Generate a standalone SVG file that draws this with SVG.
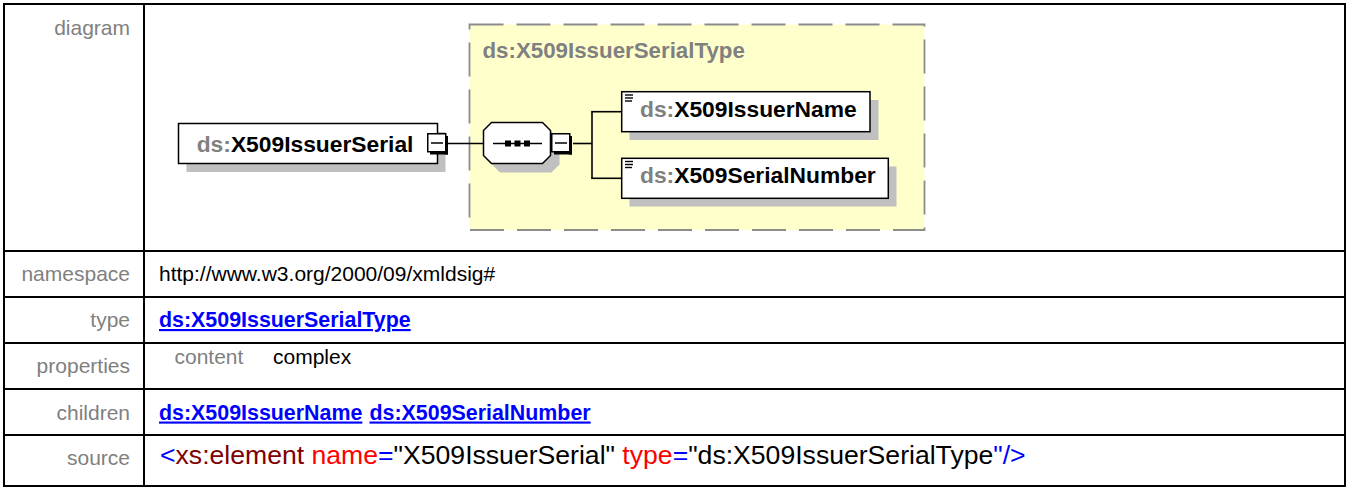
<svg xmlns="http://www.w3.org/2000/svg" width="1346" height="487" viewBox="0 0 1346 487">
<style>
text{font-family:"Liberation Sans",Arial,sans-serif}
.lbl{font-size:21px;fill:#808080;text-anchor:end}
.val{font-size:21px;fill:#000}
.lnk{font-size:21.4px;font-weight:bold;fill:#0000ff;text-decoration:underline}
.src{font-size:26.6px}
.nm{font-size:22.8px;font-weight:bold;fill:#000}
.pfx{fill:#808080}
.grid{stroke:#000;stroke-width:2;fill:none}
.box{fill:#fff;stroke:#000;stroke-width:1.5}
.shadow{fill:#c0c0c0}
.conn{stroke:#000;stroke-width:1.6;fill:none}
.tag{fill:#0000ff}
.el{fill:#800000}
.at{fill:#ff0000}
</style>
<defs>
<g id="minus">
<rect x="0.75" y="0.75" width="18" height="18" fill="#fff" stroke="#000" stroke-width="1.5"/>
<rect x="18" y="3" width="3" height="18.5" fill="#000"/>
<rect x="3" y="18" width="18" height="3.5" fill="#000"/>
<line x1="4" y1="10" x2="16" y2="10" stroke="#000" stroke-width="1.5"/>
</g>
<g id="icon">
<line x1="0" y1="0" x2="8" y2="0" stroke="#000" stroke-width="1.4"/>
<line x1="0" y1="3" x2="8" y2="3" stroke="#000" stroke-width="1.4"/>
<line x1="0" y1="6" x2="7" y2="6" stroke="#000" stroke-width="1.4"/>
</g>
</defs>
<rect x="0" y="0" width="1346" height="487" fill="#fff"/>

<g id="table">
<rect class="grid" x="4" y="4" width="1341" height="482"/>
<line class="grid" x1="144" y1="4" x2="144" y2="486"/>
<line class="grid" x1="4" y1="251" x2="1345" y2="251"/>
<line class="grid" x1="4" y1="297" x2="1345" y2="297"/>
<line class="grid" x1="4" y1="343" x2="1345" y2="343"/>
<line class="grid" x1="4" y1="389" x2="1345" y2="389"/>
<line class="grid" x1="4" y1="435" x2="1345" y2="435"/>
</g>

<g id="labels">
<text class="lbl" x="130" y="35">diagram</text>
<text class="lbl" x="130" y="281">namespace</text>
<text class="lbl" x="130" y="327">type</text>
<text class="lbl" x="130" y="373">properties</text>
<text class="lbl" x="130" y="419.5">children</text>
<text class="lbl" x="130" y="465">source</text>
</g>

<g id="values">
<text class="val" x="159" y="281">http://www.w3.org/2000/09/xmldsig#</text>
<text class="lnk" x="159" y="327">ds:X509IssuerSerialType</text>
<text class="val" x="174.5" y="364" style="fill:#808080">content</text>
<text class="val" x="273" y="364">complex</text>
<text class="lnk" x="159" y="419.5">ds:X509IssuerName</text>
<text class="lnk" x="369.5" y="419.5">ds:X509SerialNumber</text>
<text class="src" x="160" y="464"><tspan class="tag">&lt;</tspan><tspan class="el">xs:element</tspan><tspan class="at"> name</tspan><tspan class="tag">=</tspan><tspan>"X509IssuerSerial"</tspan><tspan class="at"> type</tspan><tspan class="tag">=</tspan><tspan>"ds:X509IssuerSerialType</tspan><tspan class="tag">"/&gt;</tspan></text>
</g>

<g id="node-type">
<rect x="469.5" y="24.5" width="455" height="205.5" fill="#ffffcc"/>
<rect x="469.5" y="24.5" width="455" height="205.5" fill="none" stroke="#8c8c8c" stroke-width="1.8" stroke-dasharray="34 13"/>
<text class="nm" x="482.5" y="58" style="fill:#808080;font-size:22.3px">ds:X509IssuerSerialType</text>
</g>

<g id="connectors">
<line class="conn" x1="448" y1="143.5" x2="483" y2="143.5"/>
<line class="conn" x1="573" y1="143.5" x2="592" y2="143.5"/>
<line class="conn" x1="592" y1="111.7" x2="592" y2="178.3"/>
<line class="conn" x1="591.2" y1="111.7" x2="622" y2="111.7"/>
<line class="conn" x1="591.2" y1="178.3" x2="622" y2="178.3"/>
</g>

<g id="node-element">
<rect class="shadow" x="186.5" y="132" width="259" height="40"/>
<rect class="box" x="178.5" y="123.5" width="259" height="40"/>
<text class="nm" x="196.7" y="151.7"><tspan class="pfx">ds:</tspan>X509IssuerSerial</text>
<use href="#minus" x="427" y="133"/>
</g>

<g id="node-sequence">
<polygon class="shadow" points="500,131.5 551.5,131.5 559.5,139.5 559.5,164.5 551.5,172.5 500,172.5 492,164.5 492,139.5"/>
<polygon class="box" points="491.5,122.5 542.5,122.5 550.5,130.5 550.5,155.5 542.5,163.5 491.5,163.5 483.5,155.5 483.5,130.5"/>
<line x1="493" y1="143.5" x2="542" y2="143.5" stroke="#000" stroke-width="1.6"/>
<rect x="505" y="140.5" width="6" height="6" fill="#000"/>
<rect x="514.5" y="140.5" width="6" height="6" fill="#000"/>
<rect x="524" y="140.5" width="6" height="6" fill="#000"/>
<use href="#minus" x="551" y="133"/>
</g>

<g id="node-child1">
<rect class="shadow" x="629.5" y="100" width="249" height="40"/>
<rect class="box" x="621.7" y="91.7" width="248.3" height="40"/>
<use href="#icon" x="625" y="95"/>
<text class="nm" x="640" y="116.7"><tspan class="pfx">ds:</tspan>X509IssuerName</text>
</g>

<g id="node-child2">
<rect class="shadow" x="629.5" y="166.5" width="267" height="40"/>
<rect class="box" x="621.7" y="158.3" width="266.6" height="40"/>
<use href="#icon" x="625" y="161.5"/>
<text class="nm" x="640" y="183.3"><tspan class="pfx">ds:</tspan>X509SerialNumber</text>
</g>
</svg>
